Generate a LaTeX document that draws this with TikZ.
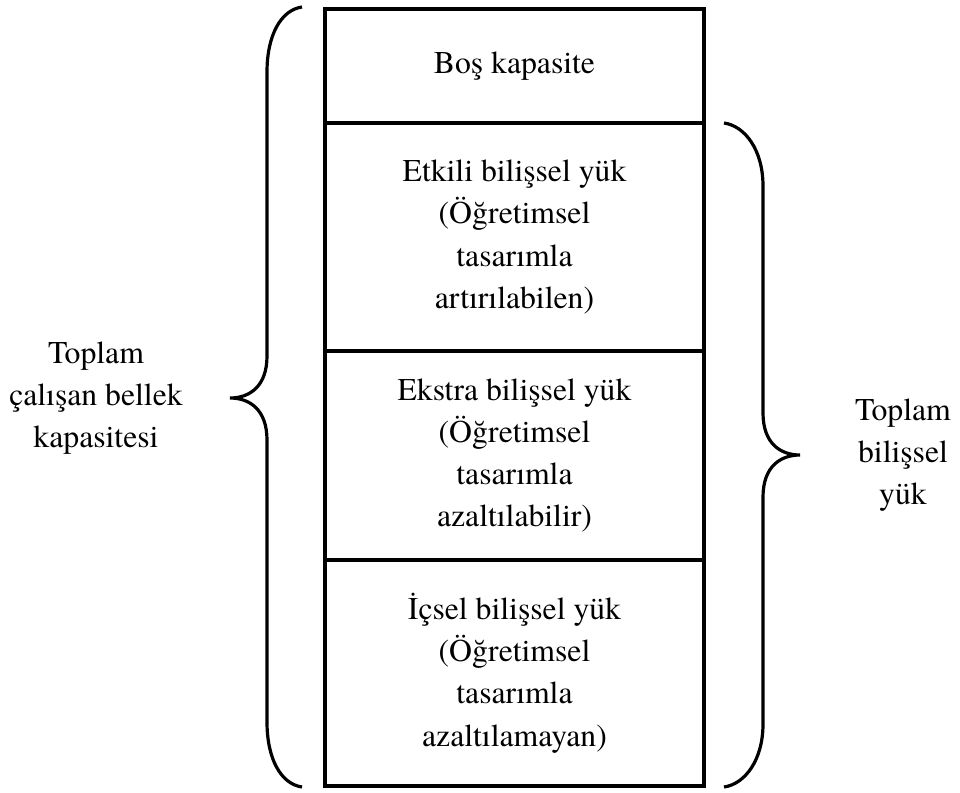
\documentclass[tikz,border=0pt]{standalone}
\usepackage{fontspec}
\setmainfont{texgyretermes-regular.otf}
\begin{document}
\begin{tikzpicture}[x=1pt,y=-1pt,
  row/.style={draw, line width=3.3pt, minimum width=379pt, inner sep=0pt, align=center,
              font=\fontsize{31.7}{42.3}\selectfont},
  lbl/.style={align=center, inner sep=0pt, font=\fontsize{31.7}{42.3}\selectfont},
  bracepath/.style={draw, line width=3.2pt, line cap=butt}]
\useasboundingbox (0,0) rectangle (960,792);

\node[row, minimum height=114pt] (r1) at (514.5,66) {Boş kapasite};
\node[row, minimum height=228pt] (r2) at (514.5,237) {Etkili bilişsel yük\\(Öğretimsel\\tasarımla\\artırılabilen)};
\node[row, minimum height=209pt] (r3) at (514.5,455.5) {Ekstra bilişsel yük\\(Öğretimsel\\tasarımla\\azaltılabilir)};
\node[row, minimum height=226pt] (r4) at (514.5,673) {İçsel bilişsel yük\\(Öğretimsel\\tasarımla\\azaltılamayan)};

\node[lbl] (left) at (96,398) {Toplam\\çalışan bellek\\kapasitesi};
\node[lbl] (right) at (903,455) {Toplam\\bilişsel\\yük};

% left brace
\coordinate (lt) at (302,7);
\coordinate (ltip) at (230,398);
\coordinate (lb) at (302,787);
\path[bracepath] (lt) .. controls (281,10) and (267,35) .. (267,72)
  -- (267,356) .. controls (267,386) and (250,398) .. (ltip)
  .. controls (250,398) and (267,410) .. (267,440)
  -- (267,722) .. controls (267,759) and (281,784) .. (lb);

% right brace
\coordinate (rt) at (724,123);
\coordinate (rtip) at (800,455);
\coordinate (rb) at (724,787);
\path[bracepath] (rt) .. controls (745,126) and (763,150) .. (763,186)
  -- (763,413) .. controls (763,443) and (780,455) .. (rtip)
  .. controls (780,455) and (763,467) .. (763,497)
  -- (763,724) .. controls (763,760) and (745,784) .. (rb);
\end{tikzpicture}
\end{document}
